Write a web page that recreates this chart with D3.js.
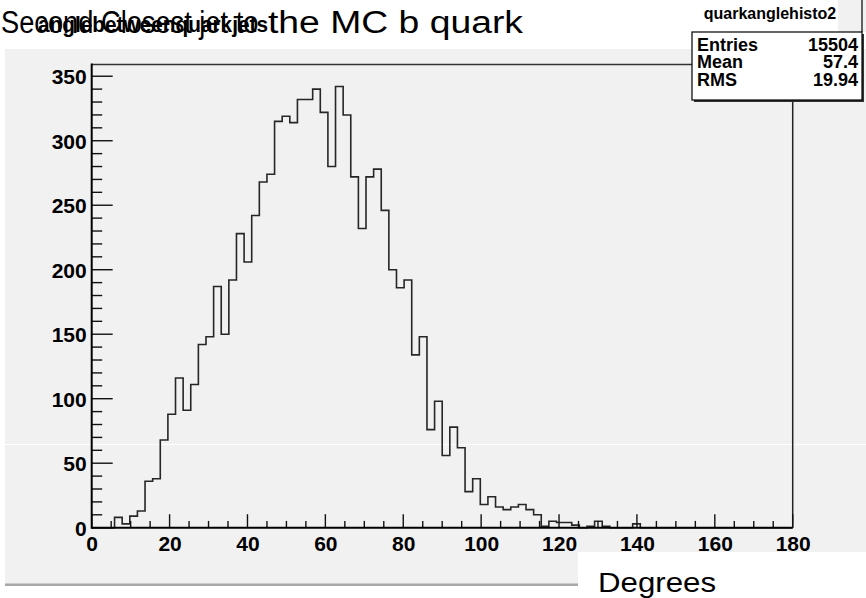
<!DOCTYPE html>
<html>
<head>
<meta charset="utf-8">
<script src="https://cdn.jsdelivr.net/npm/d3@7"></script>
<style>
  html, body { margin: 0; padding: 0; background: #ffffff; }
  svg { display: block; }
  text { font-family: "Liberation Sans", Arial, Helvetica, sans-serif; }
</style>
</head>
<body>
<svg id="chart" width="866" height="598"></svg>
<script>
// Histogram "quarkanglehisto2": 92 bins spanning 0..180 degrees
const xRange = [0, 180];
const binCounts = [
  0, 0, 0, 8, 3, 9, 13, 36, 38, 68,
  88, 116, 91, 111, 142, 148, 187, 150, 192, 228,
  206, 242, 268, 274, 315, 319, 314, 332, 332, 340,
  322, 280, 342, 320, 272, 232, 272, 278, 246, 200,
  186, 192, 134, 148, 76, 98, 56, 78, 62, 28,
  38, 18, 24, 16, 14, 16, 18, 14, 10, 1,
  5, 4, 4, 2, 0, 1, 5, 1, 0, 0,
  0, 3, 0, 0, 0, 0, 0, 0, 0, 0,
  0, 0, 0, 0, 0, 0, 0, 0, 0, 0,
  0, 0
];
const xTickValues = [0, 20, 40, 60, 80, 100, 120, 140, 160, 180];
const yTickValues = [0, 50, 100, 150, 200, 250, 300, 350];
const statsLabels = ["Entries", "Mean", "RMS"];
const statsValues = ["15504", "57.4", "19.94"];
const statsName = "quarkanglehisto2";
const mainTitleParts = ["Second Closest jet to ", "the MC b quark"];
const overTitle = "anglebetweenquarkjets";
const xTitle = "Degrees";

const svg = d3.select("#chart");
const W = 866, H = 598;

// frame geometry
const frame = { left: 91.7, right: 792.7, top: 64.5, bottom: 527.7 };
const yMax = d3.max(binCounts) * 1.05;

const x = d3.scaleLinear().domain(xRange).range([frame.left, frame.right]);
const y = d3.scaleLinear().domain([0, yMax]).range([frame.bottom, frame.top]);

// pad background
svg.append("rect").attr("x", 0).attr("y", 0).attr("width", W).attr("height", H).attr("fill", "#ffffff");
svg.append("rect").attr("x", 5).attr("y", 49).attr("width", W - 5).attr("height", 535).attr("fill", "#f1f1f1");
// pad bottom shadow
svg.append("rect").attr("x", 5).attr("y", 583.5).attr("width", W - 5).attr("height", 2.5).attr("fill", "#a8a8a8");
// thin light streak across the pad
svg.append("line").attr("x1", 5).attr("x2", W).attr("y1", 444.5).attr("y2", 444.5)
  .attr("stroke", "#ffffff").attr("stroke-width", 1);

// histogram outline
const nb = binCounts.length;
const bw = (xRange[1] - xRange[0]) / nb;
const pts = [[x(xRange[0]), y(0)]];
binCounts.forEach((c, i) => {
  pts.push([x(xRange[0] + i * bw), y(c)]);
  pts.push([x(xRange[0] + (i + 1) * bw), y(c)]);
});
pts.push([x(xRange[1]), y(0)]);
svg.append("path")
  .attr("d", d3.line()(pts))
  .attr("fill", "none")
  .attr("stroke", "#262626")
  .attr("stroke-width", 1.6)
  .attr("stroke-linejoin", "miter");

// frame top and right lines
svg.append("line").attr("x1", frame.left).attr("x2", frame.right).attr("y1", frame.top).attr("y2", frame.top)
  .attr("stroke", "#333").attr("stroke-width", 1.5);
svg.append("line").attr("x1", frame.right).attr("x2", frame.right).attr("y1", frame.top).attr("y2", frame.bottom)
  .attr("stroke", "#222").attr("stroke-width", 1.5);

// y axis: ticks drawn inward (to the right)
const yMinor = d3.range(0, yMax, 10);
svg.append("g").attr("transform", `translate(${frame.left},0)`)
  .selectAll("line").data(yMinor).join("line")
  .attr("x1", 0).attr("x2", d => d % 50 === 0 ? 21 : 10.5)
  .attr("y1", d => y(d)).attr("y2", d => y(d))
  .attr("stroke", "#111").attr("stroke-width", 1.4);

const yAxis = d3.axisLeft(y).tickValues(yTickValues).tickSize(0).tickPadding(5);
const gy = svg.append("g").attr("transform", `translate(${frame.left},0)`).call(yAxis);
gy.select(".domain").remove();
gy.selectAll("text")
  .attr("font-family", "'Liberation Sans', Arial, sans-serif")
  .attr("font-weight", "bold").attr("font-size", 21).attr("fill", "#000")
  .attr("dy", "0.36em");

// x axis: ticks drawn inward (upward)
const xMinor = d3.range(0, 180.001, 5);
svg.append("g").attr("transform", `translate(0,${frame.bottom})`)
  .selectAll("line").data(xMinor).join("line")
  .attr("x1", d => x(d)).attr("x2", d => x(d))
  .attr("y1", 0).attr("y2", d => d % 20 === 0 ? -13.5 : -6.8)
  .attr("stroke", "#111").attr("stroke-width", 1.4);

const xAxis = d3.axisBottom(x).tickValues(xTickValues).tickSize(0).tickPadding(0);
const gx = svg.append("g").attr("transform", `translate(0,${frame.bottom})`).call(xAxis);
gx.select(".domain").remove();
gx.selectAll("text")
  .attr("font-family", "'Liberation Sans', Arial, sans-serif")
  .attr("font-weight", "bold").attr("font-size", 21).attr("fill", "#000")
  .attr("dy", null).attr("y", 23.5);

// axis lines
svg.append("line").attr("x1", frame.left).attr("x2", frame.right).attr("y1", frame.bottom).attr("y2", frame.bottom)
  .attr("stroke", "#000").attr("stroke-width", 2);
svg.append("line").attr("x1", frame.left).attr("x2", frame.left).attr("y1", frame.top - 1).attr("y2", frame.bottom + 1)
  .attr("stroke", "#000").attr("stroke-width", 2);

// x axis title in its own white box
svg.append("rect").attr("x", 578).attr("y", 552).attr("width", W - 578).attr("height", H - 552).attr("fill", "#ffffff");
svg.append("text").attr("x", 598).attr("y", 591.5)
  .attr("font-size", 28).attr("fill", "#000")
  .attr("textLength", 118).attr("lengthAdjust", "spacingAndGlyphs")
  .text(xTitle);

// titles (two overlapping)
const titleSpans = [{ x: 1, len: 265 }, { x: 268, len: 255 }];
mainTitleParts.forEach((part, i) => {
  svg.append("text").attr("x", titleSpans[i].x).attr("y", 33)
    .attr("font-size", 31).attr("fill", "#000")
    .attr("textLength", titleSpans[i].len).attr("lengthAdjust", "spacingAndGlyphs")
    .attr("xml:space", "preserve")
    .text(part);
});
svg.append("text").attr("x", 38).attr("y", 32)
  .attr("font-size", 22).attr("font-weight", "bold").attr("fill", "#000")
  .attr("textLength", 230).attr("lengthAdjust", "spacingAndGlyphs")
  .text(overTitle);

// stats box
const sb = { x: 692, y: 32, w: 170, h: 68 };
svg.append("rect").attr("x", 838).attr("y", 0).attr("width", W - 838).attr("height", 32).attr("fill", "#f1f1f1");
svg.append("rect").attr("x", sb.x + 2).attr("y", sb.y + 2).attr("width", sb.w).attr("height", sb.h).attr("fill", "#333");
svg.append("rect").attr("x", sb.x).attr("y", sb.y).attr("width", sb.w).attr("height", sb.h)
  .attr("fill", "#ffffff").attr("stroke", "#000").attr("stroke-width", 1.2);
svg.append("line").attr("x1", sb.x + sb.w).attr("x2", sb.x + sb.w).attr("y1", 0).attr("y2", sb.y)
  .attr("stroke", "#000").attr("stroke-width", 1.2);
svg.append("text").attr("x", 770).attr("y", 19).attr("text-anchor", "middle")
  .attr("font-size", 16).attr("font-weight", "bold").attr("fill", "#000")
  .text(statsName);
statsLabels.forEach((lab, i) => {
  const yy = 51 + i * 17.3;
  svg.append("text").attr("x", 697).attr("y", yy)
    .attr("font-size", 18).attr("font-weight", "bold").attr("fill", "#000").text(lab);
  svg.append("text").attr("x", 858).attr("y", yy).attr("text-anchor", "end")
    .attr("font-size", 18).attr("font-weight", "bold").attr("fill", "#000").text(statsValues[i]);
});
</script>
</body>
</html>
